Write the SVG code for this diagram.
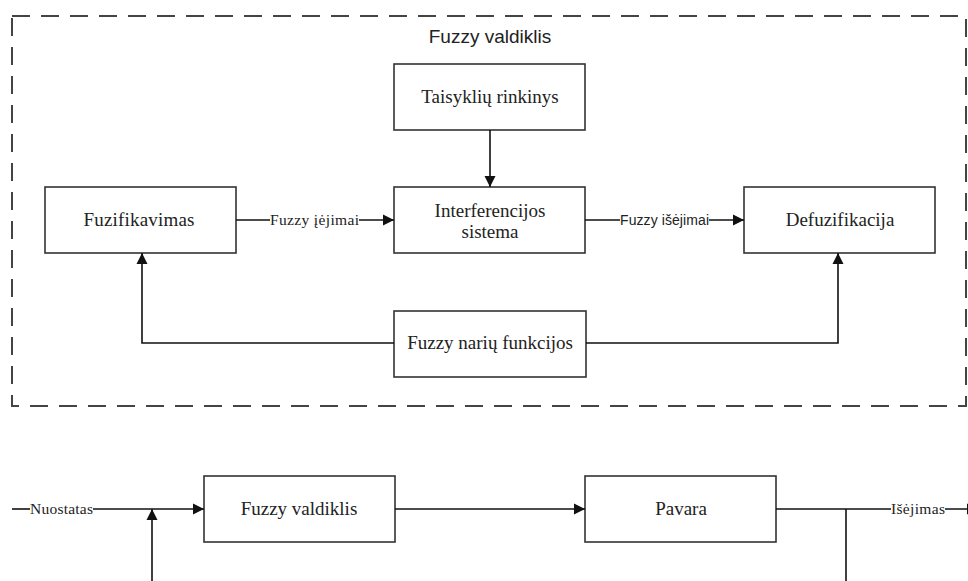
<svg xmlns="http://www.w3.org/2000/svg" width="968" height="581" viewBox="0 0 968 581">
  <style>
    .box { fill: #fff; stroke: #333; stroke-width: 1.6; }
    .wire { fill: none; stroke: #111; stroke-width: 1.6; }
    .frame { fill: none; stroke: #444; stroke-width: 2; stroke-dasharray: 18 11; }
    .lbl { font-family: "Liberation Serif", "Times New Roman", serif; font-size: 19px; fill: #222; text-anchor: middle; }
    .small { font-family: "Liberation Serif", "Times New Roman", serif; font-size: 15.5px; fill: #222; }
    .sans { font-family: "Liberation Sans", Arial, sans-serif; fill: #222; }
  </style>
  <defs>
    <marker id="arrow" markerUnits="userSpaceOnUse" markerWidth="12" markerHeight="12" refX="11" refY="6" orient="auto">
      <path d="M0,0.5 L11,6 L0,11.5 z" fill="#111"/>
    </marker>
  </defs>
  <rect width="968" height="581" fill="#fff"/>

  <!-- controller boundary -->
  <g id="controller-frame">
    <rect class="frame" x="12" y="16" width="954" height="390"/>
    <text class="sans" x="490" y="43" font-size="19" text-anchor="middle">Fuzzy valdiklis</text>
  </g>

  <g id="taisykliu-rinkinys">
    <rect class="box" x="394" y="64" width="191" height="66"/>
    <text class="lbl" x="490" y="103">Taisyklių rinkinys</text>
  </g>
  <g id="interferencijos-sistema">
    <rect class="box" x="394" y="187" width="191" height="66"/>
    <text class="lbl" x="490" y="217">Interferencijos</text>
    <text class="lbl" x="490" y="238">sistema</text>
  </g>
  <g id="fuzifikavimas">
    <rect class="box" x="45" y="187" width="191" height="66"/>
    <text class="lbl" x="139" y="226" textLength="111">Fuzifikavimas</text>
  </g>
  <g id="defuzifikacija">
    <rect class="box" x="744" y="187" width="191" height="66"/>
    <text class="lbl" x="840" y="226">Defuzifikacija</text>
  </g>
  <g id="nariu-funkcijos">
    <rect class="box" x="394" y="311" width="192" height="66"/>
    <text class="lbl" x="490" y="349">Fuzzy narių funkcijos</text>
  </g>

  <g id="fuzzy-valdiklis">
    <rect class="box" x="204" y="476" width="191" height="66"/>
    <text class="lbl" x="299" y="515">Fuzzy valdiklis</text>
  </g>
  <g id="pavara">
    <rect class="box" x="585" y="476" width="191" height="66"/>
    <text class="lbl" x="681" y="515">Pavara</text>
  </g>

  <g id="connectors">
    <path class="wire" d="M490,130 V187" marker-end="url(#arrow)"/>
    <path class="wire" d="M236,220 H270"/>
    <path class="wire" d="M359,220 H394" marker-end="url(#arrow)"/>
    <text class="small" x="270" y="225" textLength="89" lengthAdjust="spacing">Fuzzy įėjimai</text>
    <path class="wire" d="M585,220 H620"/>
    <path class="wire" d="M709,220 H744" marker-end="url(#arrow)"/>
    <text class="sans" x="620" y="225" font-size="14" textLength="89" lengthAdjust="spacing">Fuzzy išėjimai</text>
    <path class="wire" d="M394,343 H142 V253" marker-end="url(#arrow)"/>
    <path class="wire" d="M586,343 H838 V253" marker-end="url(#arrow)"/>

    <path class="wire" d="M12,509 H30"/>
    <text class="small" x="30" y="514" textLength="63" lengthAdjust="spacing">Nuostatas</text>
    <path class="wire" d="M93,509 H204" marker-end="url(#arrow)"/>
    <path class="wire" d="M152,581 V509" marker-end="url(#arrow)"/>
    <path class="wire" d="M395,509 H585" marker-end="url(#arrow)"/>
    <path class="wire" d="M776,509 H891"/>
    <path class="wire" d="M846,509 V581"/>
    <text class="small" x="891" y="514" textLength="54" lengthAdjust="spacing">Išėjimas</text>
    <path class="wire" d="M945,509 H978" marker-end="url(#arrow)"/>
  </g>
</svg>
